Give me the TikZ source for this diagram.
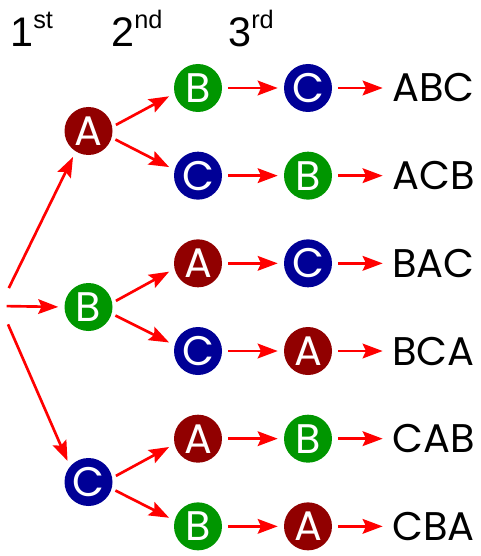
\documentclass[tikz,border=0pt]{standalone}
\usepackage{fontspec}
\setmainfont{Liberation Sans}
\newfontfamily\ballfont{Poppins}
\usetikzlibrary{arrows.meta}
\definecolor{cA}{RGB}{145,0,0}
\definecolor{cB}{RGB}{0,150,0}
\definecolor{cC}{RGB}{0,0,150}
\tikzset{
  ball/.style={circle, inner sep=0pt, minimum size=36pt, text=white,
    font=\ballfont\fontsize{31}{31}\selectfont},
  word/.style={anchor=west, inner sep=0pt, font=\ballfont\fontsize{30}{30}\selectfont},
  head/.style={anchor=base west, inner sep=0pt, font=\fontsize{31}{31}\selectfont},
  arr/.style={-{Stealth[length=15pt,width=11pt,inset=2.5pt]}, red, line width=2pt,
    shorten <=4.5pt, shorten >=4.5pt}
}
\newcommand{\up}[1]{\raisebox{14pt}{\fontsize{19}{19}\selectfont #1}}
\begin{document}
\begin{tikzpicture}[x=0.75pt,y=-0.75pt]
  \useasboundingbox (0,0) rectangle (480,556);
  % column heads
  \node[head] (h1) at (10,47) {1\up{st}};
  \node[head] (h2) at (111,47) {2\up{nd}};
  \node[head] (h3) at (228,47) {3\up{rd}};
  % first choice
  \coordinate (root) at (0,306);
  \node[ball, fill=cA] (n1A) at (88.5,131) {A};
  \node[ball, fill=cB] (n1B) at (88.5,307) {B};
  \node[ball, fill=cC] (n1C) at (88.5,482) {C};
  \draw[arr, shorten <=15pt] (root) -- (n1A.-122);
  \draw[arr, shorten <=5pt] (root) -- (n1B.west);
  \draw[arr, shorten <=15pt] (root) -- (n1C.140);
  % second and third choice
  \foreach \i/\p/\s/\t/\w/\a/\b in
    {1/A/B/C/ABC/10/193, 2/A/C/B/ACB/-16/166,
     3/B/A/C/BAC/10/193, 4/B/C/A/BCA/-16/166,
     5/C/A/B/CAB/10/193, 6/C/B/A/CBA/-16/166}
  {
    \node[ball, fill=c\s] (n2\i) at (198,{88+87.67*(\i-1)}) {\s};
    \node[ball, fill=c\t] (n3\i) at (308,{88+87.67*(\i-1)}) {\t};
    \node[word] (w\i) at (392,{88+87.67*(\i-1)}) {\w};
    \draw[arr, shorten <=3pt] (n1\p.\a) -- (n2\i.\b);
    \draw[arr] (n2\i) -- (n3\i);
    \draw[arr, shorten >=7pt] (n3\i) -- (w\i);
  }
\end{tikzpicture}
\end{document}
